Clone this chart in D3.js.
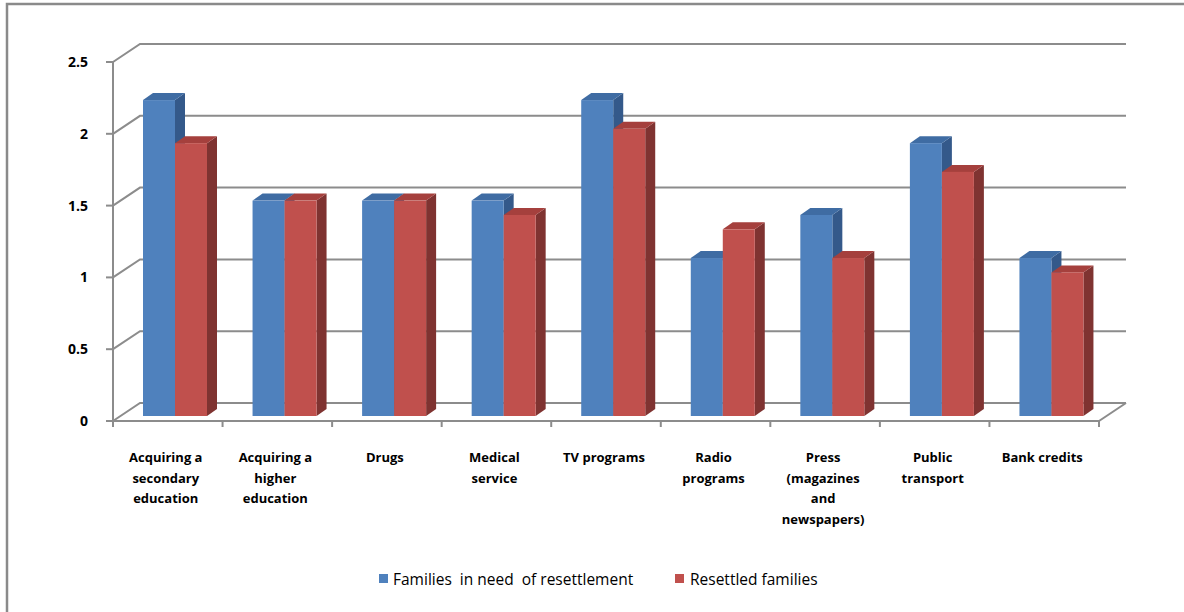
<!DOCTYPE html>
<html>
<head>
<meta charset="utf-8">
<script src="https://cdn.jsdelivr.net/npm/d3@7"></script>
<style>
  html, body { margin: 0; padding: 0; background: #fff; }
  svg { display: block; }
  text { font-family: "Open Sans", Lato, sans-serif; fill: #000; }
</style>
</head>
<body>
<svg id="chart" width="1184" height="612"></svg>
<script>
// Categories (label lines) and the two series
const categories = [
  ["Acquiring a", "secondary", "education"],
  ["Acquiring a", "higher", "education"],
  ["Drugs"],
  ["Medical", "service"],
  ["TV programs"],
  ["Radio", "programs"],
  ["Press", "(magazines", "and", "newspapers)"],
  ["Public", "transport"],
  ["Bank credits"]
];
const seriesNames = ["Families  in need  of resettlement", "Resettled families"];
const familiesInNeed = [2.2, 1.5, 1.5, 1.5, 2.2, 1.1, 1.4, 1.9, 1.1];
const resettled      = [1.9, 1.5, 1.5, 1.4, 2.0, 1.3, 1.1, 1.7, 1.0];
const yTicks = [0, 0.5, 1, 1.5, 2, 2.5];

const palette = [
  { front: "#4f81bd", top: "#3f6ca3", side: "#34598a" },
  { front: "#c0504d", top: "#a5403d", side: "#7f3331" }
];

const svg = d3.select("#chart");

// Outer chart frame (top and left edges visible)
svg.append("path")
  .attr("d", "M7,612 L7,4 L1184,4")
  .attr("fill", "none").attr("stroke", "#8a8a8a").attr("stroke-width", 2.5);

// Front plane scales
const x = d3.scaleBand().domain(d3.range(categories.length)).range([113, 1099]).padding(0);
const y = d3.scaleLinear().domain([0, 2.5]).range([421, 62]);

// Depth of the back wall and of each bar
const wall = { dx: 27, dy: -18 };
const barFront = { dx: 6, dy: -5 };
const barDepth = { dx: 10, dy: -7 };
const barW = 32;
const groupOffset = 24;

const grid = svg.append("g").attr("stroke", "#8c8c8c").attr("stroke-width", 2).attr("fill", "none");

// Back wall gridlines plus the diagonal on the side wall
yTicks.forEach(v => {
  const yf = y(v);
  grid.append("path")
    .attr("d", `M${x.range()[0]},${yf} L${x.range()[0] + wall.dx},${yf + wall.dy} L${x.range()[1] + wall.dx},${yf + wall.dy}`);
});
// Floor right edge
grid.append("path")
  .attr("d", `M${x.range()[1]},${y(0)} L${x.range()[1] + wall.dx},${y(0) + wall.dy}`);

// Bars
const bars = svg.append("g");
categories.forEach((c, i) => {
  [familiesInNeed, resettled].forEach((series, s) => {
    const v = series[i];
    const col = palette[s];
    const x0 = x(i) + groupOffset + barFront.dx + s * barW;
    const x1 = x0 + barW;
    const yb = y(0) + barFront.dy;
    const yt = y(v) + barFront.dy;
    const g = bars.append("g");
    // side face
    g.append("path")
      .attr("d", `M${x1},${yb} L${x1 + barDepth.dx},${yb + barDepth.dy} L${x1 + barDepth.dx},${yt + barDepth.dy} L${x1},${yt} Z`)
      .attr("fill", col.side);
    // top face
    g.append("path")
      .attr("d", `M${x0},${yt} L${x0 + barDepth.dx},${yt + barDepth.dy} L${x1 + barDepth.dx},${yt + barDepth.dy} L${x1},${yt} Z`)
      .attr("fill", col.top);
    // front face
    g.append("rect")
      .attr("x", x0).attr("y", yt).attr("width", barW).attr("height", yb - yt)
      .attr("fill", col.front);
  });
});

// Value axis
const axisG = svg.append("g").attr("stroke", "#8c8c8c").attr("stroke-width", 2).attr("fill", "none");
axisG.append("line").attr("x1", 113).attr("x2", 113).attr("y1", y(0)).attr("y2", y(2.5));
yTicks.forEach(v => {
  axisG.append("line").attr("x1", 106).attr("x2", 113).attr("y1", y(v)).attr("y2", y(v));
});
svg.append("g").selectAll("text").data(yTicks).join("text")
  .attr("x", 88).attr("y", d => y(d) + 5)
  .attr("text-anchor", "end")
  .attr("font-size", 14).attr("font-weight", "bold")
  .text(d => d3.format("")(d));

// Category axis (front floor edge and ticks)
axisG.append("line").attr("x1", x.range()[0]).attr("x2", x.range()[1]).attr("y1", y(0)).attr("y2", y(0));
d3.range(categories.length + 1).forEach(i => {
  const xx = x.range()[0] + i * x.bandwidth();
  axisG.append("line").attr("x1", xx).attr("x2", xx).attr("y1", y(0)).attr("y2", y(0) + 6);
});
const catLabels = svg.append("g");
categories.forEach((lines, i) => {
  const t = catLabels.append("text")
    .attr("text-anchor", "middle")
    .attr("font-size", 13).attr("font-weight", "bold");
  lines.forEach((ln, k) => {
    t.append("tspan").attr("x", x(i) + x.bandwidth() / 2 - 2).attr("y", 462 + k * 20.5).text(ln);
  });
});

// Legend
const legendPos = [{ sx: 379, tx: 393 }, { sx: 675, tx: 690 }];
const legend = svg.append("g");
seriesNames.forEach((name, s) => {
  legend.append("rect")
    .attr("x", legendPos[s].sx).attr("y", 574).attr("width", 9).attr("height", 9)
    .attr("fill", palette[s].front);
  legend.append("text")
    .attr("x", legendPos[s].tx).attr("y", 585)
    .attr("font-size", 15.5)
    .attr("xml:space", "preserve")
    .style("white-space", "pre")
    .text(name);
});
</script>
</body>
</html>
